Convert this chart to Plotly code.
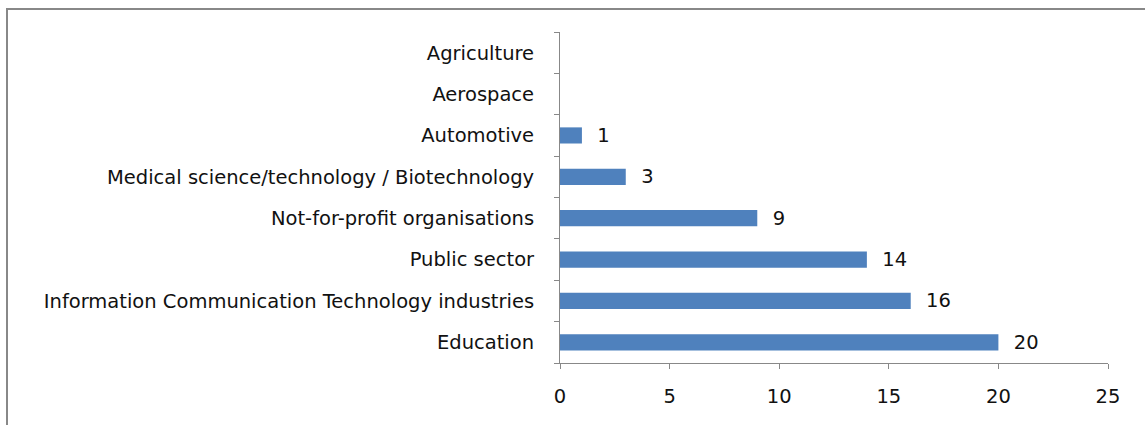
import plotly.graph_objects as go

categories = ["Education", "Information Communication Technology industries", "Public sector",
              "Not-for-profit organisations", "Medical science/technology / Biotechnology",
              "Automotive", "Aerospace", "Agriculture"]
values = [20, 16, 14, 9, 3, 1, 0, 0]
labels = ["  " + str(v) if v > 0 else "" for v in values]
x_ticks = [0, 5, 10, 15, 20, 25]

FONT = "DejaVu Sans"
FS = 19.5

fig = go.Figure(go.Bar(
    x=values, y=categories, orientation="h",
    marker=dict(color="#4F81BD", line=dict(width=0)),
    text=labels, textposition="outside", cliponaxis=False, constraintext="none",
    textfont=dict(family=FONT, size=FS, color="#111"),
    width=0.39,
))

fig.update_layout(
    width=1145, height=425,
    margin=dict(l=560, r=37, t=32, b=62),
    paper_bgcolor="white", plot_bgcolor="white",
    showlegend=False,
    font=dict(family=FONT, size=FS, color="#111"),
    xaxis=dict(range=[0, 25], tickvals=x_ticks, showgrid=False, zeroline=False,
               showline=True, linecolor="#888", linewidth=1,
               ticks="outside", ticklen=5, tickcolor="#888",
               ticklabelstandoff=11, tickfont=dict(size=FS)),
    yaxis=dict(categoryorder="array", categoryarray=categories, showgrid=False,
               showline=True, linecolor="#888", linewidth=1,
               ticks="outside", ticklen=5, tickcolor="#888", tickson="boundaries",
               ticklabelstandoff=21, tickfont=dict(size=FS)),
    shapes=[dict(type="rect", xref="paper", yref="paper",
                 x0=(7 - 560) / 548, x1=1.2, y0=-0.4, y1=(363 - 9) / 331,
                 line=dict(color="#888", width=2), fillcolor="rgba(0,0,0,0)",
                 layer="below")],
)

fig.write_html("out.html", config={"displayModeBar": False},
               post_script="document.body.style.margin='0';")
